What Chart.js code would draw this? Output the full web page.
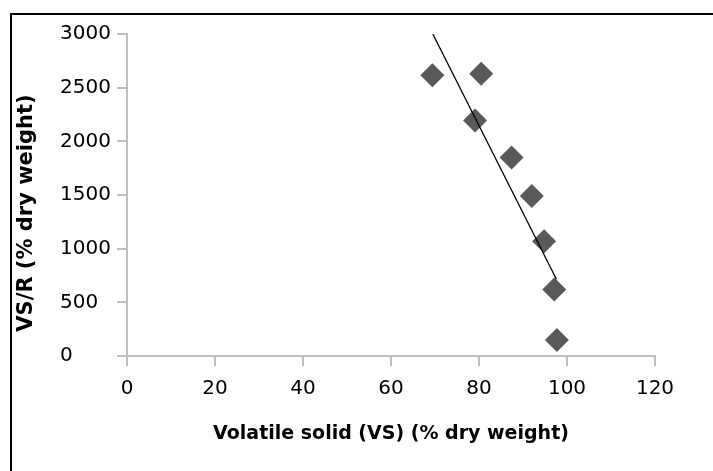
<!DOCTYPE html>
<html>
<head>
<meta charset="utf-8">
<script src="https://cdn.jsdelivr.net/npm/chart.js@4"></script>
<style>
  html, body { margin: 0; padding: 0; background: #fff; }
  #frame { position: absolute; left: 10px; top: 13px; width: 703px; height: 458px;
           border-left: 2px solid #000; border-top: 2px solid #000; box-sizing: border-box; }
  #wrap { position: absolute; left: 0; top: 0; width: 713px; height: 471px; }
</style>
</head>
<body>
<div id="frame"></div>
<div id="wrap"><canvas id="myChart" width="713" height="471"></canvas></div>
<script>
// values
var vsPct = [69.4, 80.5, 79.1, 87.4, 92.0, 94.8, 97.1, 97.7];
var vsR = [2615, 2630, 2195, 1850, 1490, 1070, 620, 150];

// trend line end points
var trendX = [69.5, 97.6];
var trendY = [3000, 715];

var xTitle = 'Volatile solid (VS) (% dry weight)';
var yTitle = 'VS/R (% dry weight)';

var fontFam = '"DejaVu Sans", sans-serif';
var axisGrey = '#bfbfbf';

// y title sits a bit below the middle of the axis in the original
var yTitlePlugin = {
  id: 'yTitle',
  afterDraw: function (chart) {
    var c = chart.ctx;
    c.save();
    c.translate(27, 213);
    c.rotate(-Math.PI / 2);
    c.font = 'bold 21px ' + fontFam;
    c.fillStyle = '#000';
    c.textAlign = 'center';
    c.textBaseline = 'middle';
    c.fillText(yTitle, 0, 0);
    c.restore();
  }
};

var ctx = document.getElementById('myChart').getContext('2d');

var myChart = new Chart(ctx, {
  type: 'scatter',
  data: {
    datasets: [
      {
        label: 'Trend',
        type: 'line',
        data: trendX.map(function (x, i) { return { x: x, y: trendY[i] }; }),
        borderColor: '#000',
        borderWidth: 1.3,
        pointRadius: 0,
        showLine: true,
        order: 0
      },
      {
        label: 'VS/R',
        data: vsPct.map(function (x, i) { return { x: x, y: vsR[i] }; }),
        pointStyle: 'rectRot',
        pointRadius: 12,
        backgroundColor: '#595959',
        borderColor: '#595959',
        borderWidth: 0,
        order: 1
      }
    ]
  },
  options: {
    responsive: false,
    animation: false,
    layout: { padding: { left: 60, right: 58, top: 34, bottom: 0 } },
    scales: {
      x: {
        type: 'linear',
        min: 0,
        max: 120,
        afterFit: function (s) { s.height = 115; },
        ticks: { stepSize: 20, color: '#000', padding: 11, font: { family: fontFam, size: 20 } },
        grid: { drawOnChartArea: false, tickLength: 10, color: axisGrey, lineWidth: 2 },
        border: { color: axisGrey, width: 2 },
        title: {
          display: true,
          text: xTitle,
          color: '#000',
          padding: { top: 0, bottom: 26 },
          font: { family: fontFam, size: 19, weight: 'bold' }
        }
      },
      y: {
        min: 0,
        max: 3000,
        afterFit: function (s) { s.width = 67; },
        ticks: {
          stepSize: 500,
          color: '#000',
          crossAlign: 'far',
          font: { family: fontFam, size: 20 },
          callback: function (v) { return String(v); }
        },
        grid: { drawOnChartArea: false, tickLength: 10, color: axisGrey, lineWidth: 2 },
        border: { color: axisGrey, width: 2 },
        title: { display: false }
      }
    },
    plugins: {
      legend: { display: false },
      tooltip: { enabled: false }
    }
  },
  plugins: [yTitlePlugin]
});
</script>
</body>
</html>
